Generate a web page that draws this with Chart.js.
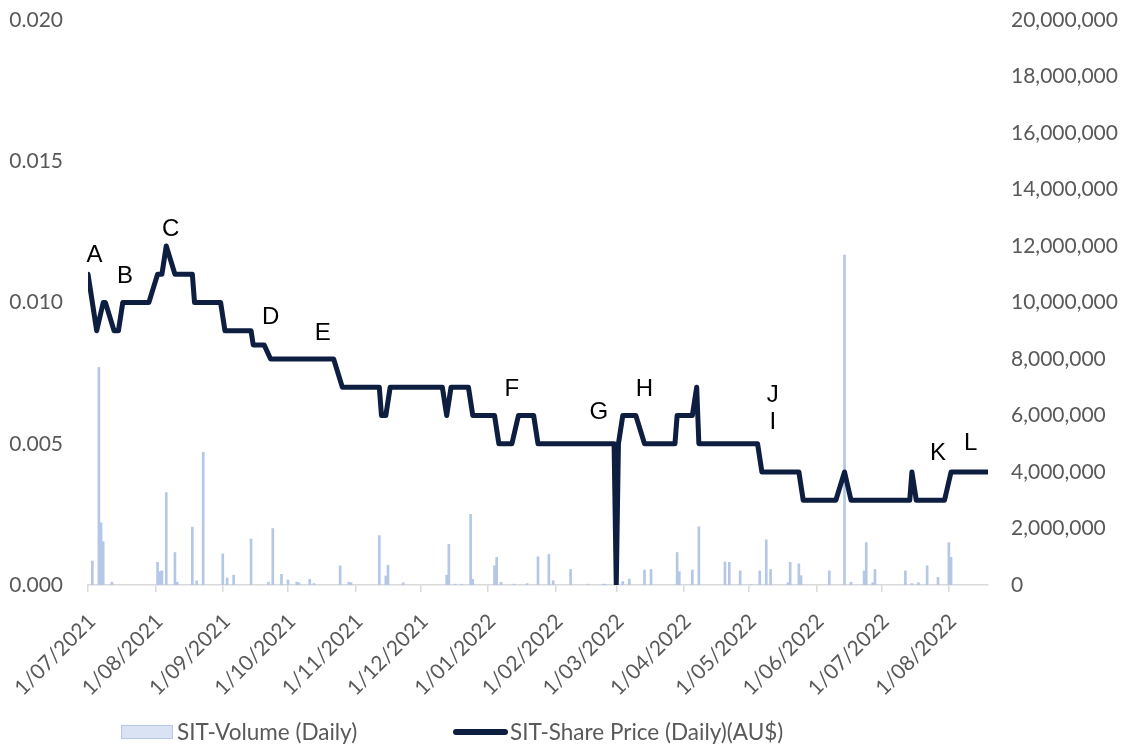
<!DOCTYPE html>
<html>
<head>
<meta charset="utf-8">
<script src="https://cdn.jsdelivr.net/npm/chart.js@4.4.1/dist/chart.umd.min.js"></script>
<style>
  html, body { margin: 0; padding: 0; background: #fff; }
  #wrap { position: relative; width: 1129px; height: 749px; }
  #legend { position: absolute; top: 718px; left: 0; height: 28px; font: 22.5px Lato, sans-serif; color: #595959; }
  .item { position: absolute; top: 0; white-space: nowrap; line-height: 28px; }
  .swatch { position: absolute; top: 7px; left: 0; width: 50px; height: 12px; background: #dae3f3; border: 1px solid #b4c7e7; }
  .stroke { position: absolute; top: 11px; left: 0; width: 55px; height: 6px; border-radius: 3px; background: #0e1e40; }
</style>
</head>
<body>
<div id="wrap">
  <canvas id="chart" width="1129" height="749"></canvas>
  <div id="legend">
    <div class="item" style="left:121px"><span class="swatch"></span><span style="margin-left:56px">SIT-Volume (Daily)</span></div>
    <div class="item" style="left:453px"><span class="stroke"></span><span style="margin-left:57px">SIT-Share Price (Daily)(AU$)</span></div>
  </div>
</div>
<script>
// month ticks on the x axis
const tickLabels = ['1/07/2021', '1/08/2021', '1/09/2021', '1/10/2021', '1/11/2021', '1/12/2021',
  '1/01/2022', '1/02/2022', '1/03/2022', '1/04/2022', '1/05/2022', '1/06/2022', '1/07/2022', '1/08/2022'];

// share price, only the days where the line turns
const priceDates = ['1/07/2021', '5/07/2021', '8/07/2021', '9/07/2021', '13/07/2021', '15/07/2021', '17/07/2021',
  '29/07/2021', '2/08/2021', '4/08/2021', '6/08/2021', '10/08/2021', '18/08/2021', '19/08/2021', '31/08/2021',
  '2/09/2021', '14/09/2021', '15/09/2021', '20/09/2021', '23/09/2021', '22/10/2021', '26/10/2021',
  '12/11/2021', '13/11/2021', '15/11/2021', '17/11/2021', '11/12/2021', '13/12/2021', '15/12/2021',
  '23/12/2021', '25/12/2021', '4/01/2022', '6/01/2022', '12/01/2022', '15/01/2022', '22/01/2022',
  '24/01/2022', '28/02/2022', '1/03/2022', '2/03/2022', '4/03/2022', '10/03/2022', '14/03/2022',
  '28/03/2022', '29/03/2022', '5/04/2022', '7/04/2022', '8/04/2022', '5/05/2022', '7/05/2022',
  '24/05/2022', '26/05/2022', '10/06/2022', '14/06/2022', '17/06/2022', '14/07/2022', '15/07/2022',
  '17/07/2022', '30/07/2022', '2/08/2022', '19/08/2022'];
const priceValues = [0.011, 0.009, 0.010, 0.010, 0.009, 0.009, 0.010,
  0.010, 0.011, 0.011, 0.012, 0.011, 0.011, 0.010, 0.010,
  0.009, 0.009, 0.0085, 0.0085, 0.008, 0.008, 0.007,
  0.007, 0.006, 0.006, 0.007, 0.007, 0.006, 0.007,
  0.007, 0.006, 0.006, 0.005, 0.005, 0.006, 0.006,
  0.005, 0.005, 0.000, 0.005, 0.006, 0.006, 0.005,
  0.005, 0.006, 0.006, 0.007, 0.005, 0.005, 0.004,
  0.004, 0.003, 0.003, 0.004, 0.003, 0.003, 0.004,
  0.003, 0.003, 0.004, 0.004];

// daily volume, trading days with a visible bar
const volumeDates = ['3/07/2021', '6/07/2021', '7/07/2021', '8/07/2021', '12/07/2021', '2/08/2021', '3/08/2021',
  '4/08/2021', '6/08/2021', '10/08/2021', '11/08/2021', '18/08/2021', '20/08/2021', '23/08/2021',
  '1/09/2021', '3/09/2021', '6/09/2021', '14/09/2021', '22/09/2021', '24/09/2021', '28/09/2021',
  '1/10/2021', '5/10/2021', '6/10/2021', '11/10/2021', '13/10/2021', '25/10/2021', '29/10/2021',
  '30/10/2021', '12/11/2021', '15/11/2021', '16/11/2021', '23/11/2021', '13/12/2021', '14/12/2021',
  '17/12/2021', '20/12/2021', '24/12/2021', '25/12/2021', '4/01/2022', '5/01/2022', '7/01/2022',
  '13/01/2022', '19/01/2022', '24/01/2022', '29/01/2022', '31/01/2022', '8/02/2022', '16/02/2022',
  '23/02/2022', '24/02/2022', '4/03/2022', '7/03/2022', '14/03/2022', '17/03/2022', '29/03/2022',
  '30/03/2022', '5/04/2022', '8/04/2022', '20/04/2022', '22/04/2022', '27/04/2022', '2/05/2022',
  '6/05/2022', '9/05/2022', '11/05/2022', '19/05/2022', '20/05/2022', '24/05/2022', '25/05/2022',
  '7/06/2022', '14/06/2022', '17/06/2022', '23/06/2022', '24/06/2022', '27/06/2022', '28/06/2022',
  '12/07/2022', '15/07/2022', '18/07/2022', '22/07/2022', '27/07/2022', '1/08/2022', '2/08/2022'];
const volumeValues = [850000, 7700000, 2200000, 1530000, 100000, 800000, 470000,
  500000, 3270000, 1150000, 100000, 2050000, 150000, 4700000,
  1100000, 250000, 350000, 1630000, 100000, 2000000, 380000,
  180000, 100000, 80000, 200000, 50000, 680000, 100000,
  80000, 1750000, 320000, 700000, 80000, 350000, 1440000,
  30000, 30000, 2500000, 200000, 680000, 980000, 100000,
  30000, 50000, 1000000, 1080000, 150000, 550000, 30000,
  30000, 30000, 120000, 210000, 530000, 550000, 1150000,
  470000, 530000, 2060000, 820000, 800000, 500000, 20000,
  500000, 1600000, 550000, 80000, 800000, 750000, 330000,
  500000, 11680000, 100000, 500000, 1500000, 80000, 550000,
  500000, 50000, 80000, 680000, 270000, 1500000, 980000];

// letter markers written over the price line
const letterNames = ['A', 'B', 'C', 'D', 'E', 'F', 'G', 'H', 'J', 'I', 'K', 'L'];
const letterDates = ['4/07/2021', '18/07/2021', '8/08/2021', '23/09/2021', '17/10/2021', '12/01/2022',
  '21/02/2022', '14/03/2022', '12/05/2022', '12/05/2022', '27/07/2022', '11/08/2022'];
const letterValues = [0.01168, 0.01094, 0.0126, 0.00949, 0.00892, 0.00694,
  0.00612, 0.00694, 0.00673, 0.00577, 0.00467, 0.00503];

const START = Date.UTC(2021, 6, 1);
function dayNum(s) {
  const p = s.split('/');
  return (Date.UTC(+p[2], +p[1] - 1, +p[0]) - START) / 86400000;
}

const tickFont = { family: 'Lato, sans-serif', size: 21 };
const grey = '#595959';

const letterPlugin = {
  id: 'letters',
  afterDatasetsDraw(chart) {
    const { ctx, scales } = chart;
    ctx.save();
    ctx.font = '24px "Liberation Sans", Arial, sans-serif';
    ctx.fillStyle = '#000';
    ctx.textAlign = 'center';
    ctx.textBaseline = 'middle';
    letterNames.forEach((t, i) => {
      ctx.fillText(t, scales.x.getPixelForValue(dayNum(letterDates[i])), scales.yPrice.getPixelForValue(letterValues[i]));
    });
    ctx.restore();
  }
};

// y axes: fixed width, and no extra top padding from the tick labels
function fixWidth(w) {
  return (s) => { s.width = w; s.paddingTop = 0; s.paddingBottom = 0; };
}

new Chart(document.getElementById('chart'), {
  type: 'bar',
  data: {
    datasets: [
      {
        type: 'line',
        label: 'SIT-Share Price (Daily)(AU$)',
        data: priceDates.map((d, i) => ({ x: dayNum(d), y: priceValues[i] })),
        yAxisID: 'yPrice',
        borderColor: '#0e1e40',
        borderWidth: 5,
        borderCapStyle: 'round',
        borderJoinStyle: 'round',
        pointRadius: 0,
        tension: 0,
        order: 0
      },
      {
        label: 'SIT-Volume (Daily)',
        data: volumeDates.map((d, i) => ({ x: dayNum(d), y: volumeValues[i] })),
        yAxisID: 'yVol',
        backgroundColor: '#b4c7e7',
        barThickness: 2,
        order: 1
      }
    ]
  },
  options: {
    responsive: false,
    animation: false,
    layout: { padding: { top: 20, bottom: 0, left: 0, right: 0 } },
    plugins: { legend: { display: false }, tooltip: { enabled: false } },
    scales: {
      x: {
        type: 'linear',
        offset: false,
        min: 0,
        max: 414,
        afterBuildTicks: (s) => { s.ticks = tickLabels.map(l => ({ value: dayNum(l) })); },
        afterFit: (s) => { s.height = 164; s.paddingLeft = 0; s.paddingRight = 0; },
        ticks: {
          autoSkip: false,
          minRotation: 45,
          maxRotation: 45,
          padding: 17,
          labelOffset: 4,
          color: grey,
          font: tickFont,
          callback: (v, i) => tickLabels[i]
        },
        grid: { display: true, offset: false, drawOnChartArea: false, drawTicks: true, tickLength: 7, color: '#d9d9d9', lineWidth: 1.5 },
        border: { display: true, color: '#d9d9d9', width: 1.5 }
      },
      yPrice: {
        position: 'left',
        min: 0,
        max: 0.02,
        afterFit: fixWidth(88),
        ticks: { stepSize: 0.005, padding: 25, color: grey, font: tickFont, callback: v => v.toFixed(3) },
        grid: { display: false, drawTicks: false },
        border: { display: false }
      },
      yVol: {
        position: 'right',
        min: 0,
        max: 20000000,
        afterFit: fixWidth(141),
        ticks: { stepSize: 2000000, padding: 23, color: grey, font: tickFont, callback: v => v.toLocaleString('en-US') },
        grid: { display: false, drawTicks: false },
        border: { display: false }
      }
    }
  },
  plugins: [letterPlugin]
});
</script>
</body>
</html>
